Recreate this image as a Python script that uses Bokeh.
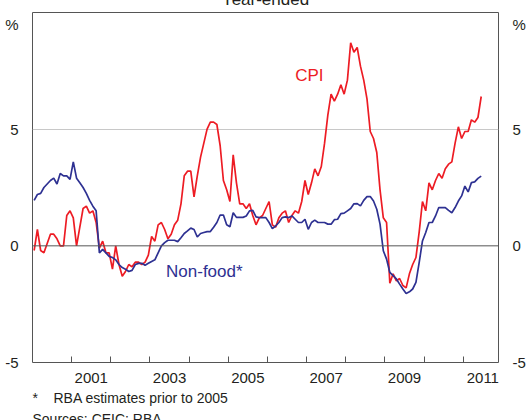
from bokeh.plotting import figure
from bokeh.models import (FixedTicker, LinearAxis, Label, Span, Range1d, Grid,
                          CustomJSTickFormatter, Title)
from bokeh.embed import file_html
from bokeh.resources import INLINE

# ---- data (year-ended % change, monthly Jan 2000 - Jun 2011) ----
cpi = [
    -0.2, 0.7, -0.2, -0.3, 0.1, 0.5, 0.5, 0.3, 0.0, 0.0, 1.3, 1.5,      # 2000
    1.2, 0.0, 0.8, 1.6, 1.7, 1.4, 1.5, 1.0, -0.1, 0.2, -0.3, -0.3,      # 2001
    -1.0, 0.0, -0.8, -1.3, -1.1, -0.8, -0.9, -0.7, -0.7, -0.8, -0.7, -0.4,  # 2002
    0.4, 0.2, 0.9, 1.0, 0.7, 0.3, 0.5, 0.9, 1.1, 1.8, 3.0, 3.2,         # 2003
    3.2, 2.1, 3.0, 3.8, 4.4, 5.0, 5.3, 5.3, 5.2, 4.3, 2.8, 2.4,         # 2004
    1.9, 3.9, 2.7, 1.8, 1.8, 1.6, 1.8, 1.3, 0.9, 1.2, 1.3, 1.6,         # 2005
    1.9, 0.9, 0.8, 1.2, 1.4, 1.5, 1.0, 1.3, 1.5, 1.4, 1.9, 2.8,         # 2006
    2.2, 2.7, 3.3, 3.0, 3.4, 4.4, 5.6, 6.5, 6.2, 6.5, 6.9, 6.5,         # 2007
    7.1, 8.7, 8.3, 8.5, 7.7, 7.1, 6.3, 4.9, 4.6, 4.0, 2.4, 1.2,         # 2008
    1.0, -1.6, -1.2, -1.5, -1.4, -1.7, -1.8, -1.2, -0.8, -0.5, 0.6, 1.9,  # 2009
    1.5, 2.7, 2.4, 2.8, 3.1, 2.9, 3.3, 3.5, 3.6, 4.4, 5.1, 4.6,         # 2010
    4.9, 4.9, 5.4, 5.3, 5.5, 6.4,                                       # 2011
]
non_food = [
    1.95, 2.2, 2.25, 2.5, 2.65, 2.8, 2.9, 2.65, 3.1, 3.0, 3.0, 2.85,    # 2000
    3.6, 2.9, 2.7, 2.5, 2.25, 1.95, 1.7, 1.5, -0.3, -0.15, -0.3, -0.45,  # 2001
    -0.5, -0.6, -0.8, -0.93, -1.0, -1.1, -1.05, -0.8, -0.75, -0.75, -0.83, -0.75,  # 2002
    -0.67, -0.6, -0.3, 0.0, 0.14, 0.24, 0.24, 0.24, 0.18, 0.35, 0.53, 0.64,  # 2003
    0.76, 0.7, 0.38, 0.53, 0.57, 0.61, 0.61, 0.8, 1.0, 1.32, 1.32, 0.9,  # 2004
    0.82, 1.42, 1.22, 1.22, 1.22, 1.28, 1.5, 1.52, 1.24, 1.21, 1.21, 1.21,  # 2005
    1.0, 0.74, 0.85, 1.0, 1.21, 1.24, 1.21, 1.28, 1.14, 1.0, 1.0, 1.14,  # 2006
    0.71, 1.0, 1.1, 1.0, 1.0, 1.0, 0.93, 0.93, 1.12, 1.14, 1.38, 1.4,   # 2007
    1.5, 1.6, 1.8, 1.81, 1.71, 1.95, 2.11, 2.11, 1.92, 1.57, 0.93, -0.21,  # 2008
    -0.57, -1.14, -1.28, -1.42, -1.64, -1.85, -2.04, -1.97, -1.85, -1.57, -0.71, 0.21,  # 2009
    0.57, 1.0, 1.0, 1.28, 1.64, 1.64, 1.64, 1.52, 1.42, 1.64, 1.92, 2.14,  # 2010
    2.56, 2.31, 2.71, 2.74, 2.89, 2.99,                                 # 2011
]
start_year = 2000
dates = [start_year + (k + 0.5) / 12 for k in range(len(cpi))]

year_ticks = [2001, 2002, 2003, 2004, 2005, 2006, 2007, 2008, 2009, 2010, 2011]
year_labels = [2001, 2003, 2005, 2007, 2009, 2011]
y_ticks = [-5, 0, 5]
pct_tick = 9.5

RED = "#ED1C24"
BLUE = "#2E3192"
TXT = "#231F20"
FONT = "Liberation Sans"
NB = "\u00a0"

# canvas starts 20px above the window so that the (cropped) title sits there
p = figure(width=528, height=450, output_backend="svg", toolbar_location=None,
           x_range=Range1d(2000.0, 2011.9), y_range=Range1d(-5, 10),
           x_axis_type=None, y_axis_type=None,
           min_border_left=32, min_border_right=28,
           min_border_top=32, min_border_bottom=68,
           styles={"margin-top": "-20px", "margin-bottom": "-10px"})
p.outline_line_color = "#555555"
p.outline_line_width = 1
p.background_fill_color = "white"
p.border_fill_color = "white"

p.add_layout(Title(text="Year-ended", align="center", text_font=FONT,
                   text_font_size="17px", text_font_style="normal",
                   text_color=TXT, standoff=8), "above")

# x axis: labels mid-year, tick marks on year boundaries
xaxis = LinearAxis(
    ticker=FixedTicker(ticks=[y + 0.5 for y in year_labels], minor_ticks=year_ticks),
    formatter=CustomJSTickFormatter(code="return String(Math.floor(tick));"),
    axis_line_color=None, major_tick_line_color=None,
    major_tick_in=0, major_tick_out=0,
    minor_tick_in=6, minor_tick_out=0, minor_tick_line_color="#555555",
    major_label_standoff=10,
    major_label_text_font=FONT, major_label_text_font_size="15px",
    major_label_text_color=TXT)
p.add_layout(xaxis, "below")

yfmt = "return tick > 9 ? '%' : String(tick);"
for side in ("left", "right"):
    ax = LinearAxis(
        ticker=FixedTicker(ticks=y_ticks + [pct_tick]),
        formatter=CustomJSTickFormatter(code=yfmt),
        axis_line_color=None, major_tick_line_color=None,
        minor_tick_line_color=None, major_label_standoff=8,
        major_label_text_font=FONT, major_label_text_font_size="15px",
        major_label_text_color=TXT)
    p.add_layout(ax, side)

p.add_layout(Grid(dimension=1, ticker=FixedTicker(ticks=[5]),
                  grid_line_color="#c8c8c8", grid_line_width=1))
p.add_layout(Span(location=0, dimension="width", line_color="#555555", line_width=1))

p.line(dates, cpi, line_color=RED, line_width=1.7)
p.line(dates, non_food, line_color=BLUE, line_width=1.7)

p.add_layout(Label(x=2007.07, y=7.3, text="CPI", text_color=RED, text_font=FONT,
                   text_font_size="17px", text_align="center", text_baseline="middle"))
p.add_layout(Label(x=2003.41, y=-1.11, text="Non-food*", text_color=BLUE, text_font=FONT,
                   text_font_size="17px", text_align="left", text_baseline="middle"))

# footnotes
p.add_layout(Title(text="*" + NB * 4 + "RBA estimates prior to 2005", align="left",
                   text_font=FONT, text_font_size="14px", text_font_style="normal",
                   text_color=TXT, standoff=4), "below")
p.add_layout(Title(text="Sources: CEIC; RBA", align="left",
                   text_font=FONT, text_font_size="14px", text_font_style="normal",
                   text_color=TXT, standoff=3), "below")

open("out.html", "w").write(file_html(p, INLINE))
